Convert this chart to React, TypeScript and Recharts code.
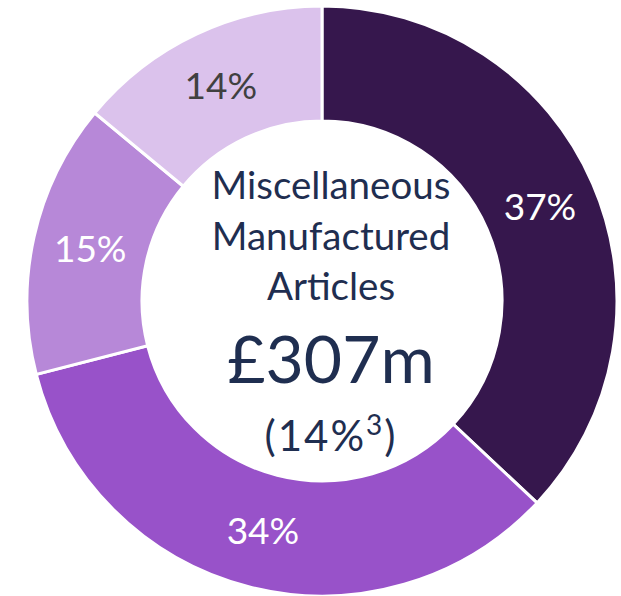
import { PieChart, Pie, Cell, Label } from "recharts";

const SEGMENTS = ["Segment A", "Segment B", "Segment C", "Segment D"];
const SHARES = [37, 34, 15, 14];
const COLORS = ["#36174d", "#9852c9", "#b788d8", "#dbc2ec"];
const LABEL_COLORS = ["#ffffff", "#ffffff", "#ffffff", "#404040"];

const CENTER_LINES = ["Miscellaneous", "Manufactured", "Articles"];
const CENTER_VALUE = "£307m";
const CENTER_SHARE = "14%";
const CENTER_NOTE = "3";

const FONT = "Lato, 'Open Sans', sans-serif";
const NAVY = "#1f2e50";
const RAD = Math.PI / 180;
const CX = 322;
const CY = 301;

const data = SEGMENTS.map((name, i) => ({ name, value: SHARES[i] }));

function SliceLabel(props: any) {
  const { cx, cy, midAngle, innerRadius, outerRadius, index, value } = props;
  const r = (innerRadius + outerRadius) / 2;
  const x = cx + r * Math.cos(-midAngle * RAD);
  const y = cy + r * Math.sin(-midAngle * RAD);
  return (
    <text
      x={x}
      y={y + 13}
      textAnchor="middle"
      fill={LABEL_COLORS[index]}
      fontFamily={FONT}
      fontSize={37}
    >
      {`${value}%`}
    </text>
  );
}

function CenterText() {
  const x = CX + 9;
  return (
    <g fontFamily={FONT} fill={NAVY} textAnchor="middle">
      {CENTER_LINES.map((line, i) => (
        <text key={line} x={x} y={CY - 102 + i * 50.5} fontSize={38.5}>
          {line}
        </text>
      ))}
      <text x={x} y={CY + 82} fontSize={66}>
        {CENTER_VALUE}
      </text>
      <text x={x} y={CY + 150} fontSize={42} letterSpacing={2}>
        ({CENTER_SHARE}
        <tspan fontSize={28} dy={-16}>
          {CENTER_NOTE}
        </tspan>
        <tspan dy={16}>)</tspan>
      </text>
    </g>
  );
}

export default function App() {
  return (
    <div style={{ position: "absolute", left: 0, top: 0, background: "#fff" }}>
      <PieChart width={621} height={596} margin={{ top: 0, right: 0, bottom: 0, left: 0 }}>
        <Pie
          data={data}
          dataKey="value"
          nameKey="name"
          cx={CX}
          cy={CY}
          innerRadius={180}
          outerRadius={295}
          startAngle={90}
          endAngle={-270}
          stroke="#ffffff"
          strokeWidth={3}
          label={SliceLabel}
          labelLine={false}
          isAnimationActive={false}
        >
          {data.map((d, i) => (
            <Cell key={d.name} fill={COLORS[i]} />
          ))}
          <Label position="center" content={CenterText} />
        </Pie>
      </PieChart>
    </div>
  );
}
